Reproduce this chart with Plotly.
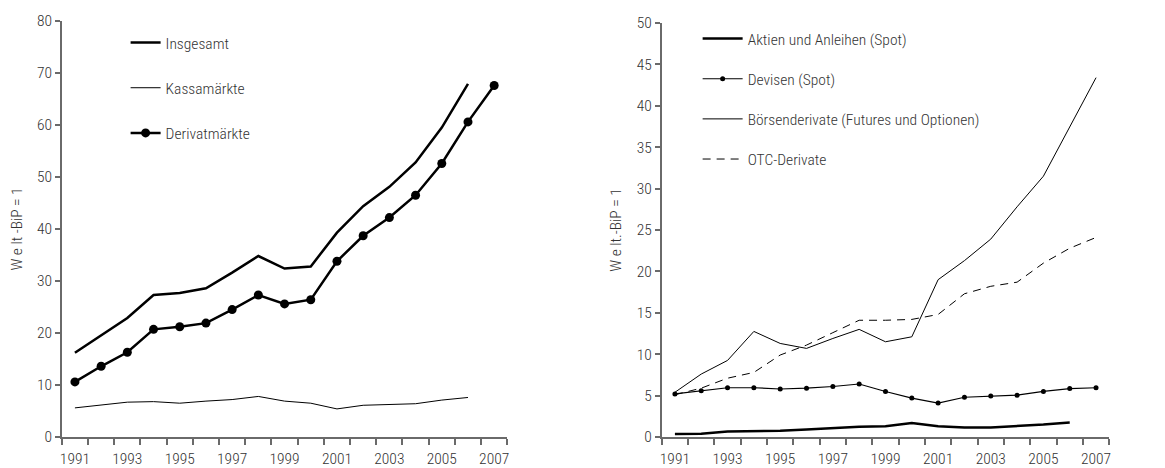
import plotly.graph_objects as go

years = list(range(1991, 2008))
years_to_2006 = list(range(1991, 2007))
tick_years = list(range(1991, 2008, 2))

# Left chart (Welt-BIP = 1)
insgesamt = [16.2, 19.6, 22.9, 27.3, 27.7, 28.6, 31.6, 34.8, 32.4, 32.8, 39.3, 44.4, 48.1, 52.8, 59.5, 67.9]
kassamaerkte = [5.6, 6.1, 6.7, 6.8, 6.5, 6.9, 7.2, 7.8, 6.9, 6.5, 5.4, 6.1, 6.3, 6.4, 7.1, 7.6]
derivatmaerkte = [10.6, 13.6, 16.3, 20.7, 21.2, 21.9, 24.5, 27.3, 25.6, 26.4, 33.8, 38.7, 42.2, 46.5, 52.6, 60.6, 67.6]

# Right chart
aktien_anleihen = [0.35, 0.4, 0.65, 0.7, 0.75, 0.9, 1.1, 1.25, 1.3, 1.7, 1.3, 1.15, 1.15, 1.3, 1.5, 1.75]
devisen = [5.2, 5.6, 5.95, 5.95, 5.8, 5.9, 6.1, 6.4, 5.5, 4.7, 4.1, 4.8, 4.95, 5.05, 5.5, 5.85, 5.95]
boersenderivate = [5.4, 7.6, 9.25, 12.75, 11.3, 10.7, 11.9, 13.0, 11.5, 12.1, 19.0, 21.3, 23.9, 27.8, 31.5, 37.5, 43.4]
otc_derivate = [5.1, 5.9, 7.1, 7.8, 9.9, 11.1, 12.6, 14.1, 14.1, 14.2, 14.8, 17.3, 18.2, 18.7, 21.0, 22.8, 24.1]

FONT = "Roboto Condensed, Arial Narrow, sans-serif"
FS = 15.5
FW = 300
TXT = "#333333"
AX = "#6a6a6a"

fig = go.Figure()

# Left traces
fig.add_trace(go.Scatter(x=years_to_2006, y=insgesamt, mode="lines", name="Insgesamt",
                         line=dict(color="black", width=2.5), xaxis="x", yaxis="y",
                         legend="legend", legendgroup="a"))
fig.add_trace(go.Scatter(x=years_to_2006, y=kassamaerkte, mode="lines", name="Kassamärkte",
                         line=dict(color="black", width=1), xaxis="x", yaxis="y",
                         legend="legend", legendgroup="b"))
fig.add_trace(go.Scatter(x=years, y=derivatmaerkte, mode="lines+markers", name="Derivatmärkte",
                         line=dict(color="black", width=2.5), marker=dict(color="black", size=9),
                         xaxis="x", yaxis="y", legend="legend", legendgroup="c"))

# Right traces
fig.add_trace(go.Scatter(x=years_to_2006, y=aktien_anleihen, mode="lines", name="Aktien und Anleihen (Spot)",
                         line=dict(color="black", width=2.5), xaxis="x2", yaxis="y2",
                         legend="legend2", legendgroup="d"))
fig.add_trace(go.Scatter(x=years, y=devisen, mode="lines+markers", name="Devisen (Spot)",
                         line=dict(color="black", width=1.2), marker=dict(color="black", size=5),
                         xaxis="x2", yaxis="y2", legend="legend2", legendgroup="e"))
fig.add_trace(go.Scatter(x=years, y=boersenderivate, mode="lines", name="Börsenderivate (Futures und Optionen)",
                         line=dict(color="black", width=1), xaxis="x2", yaxis="y2",
                         legend="legend2", legendgroup="f"))
fig.add_trace(go.Scatter(x=years, y=otc_derivate, mode="lines", name="OTC-Derivate",
                         line=dict(color="black", width=1, dash="8px,6px"), xaxis="x2", yaxis="y2",
                         legend="legend2", legendgroup="g"))

W, H = 1165, 468


def xaxis(domain):
    return dict(
        domain=domain, range=[1990.5, 2007.5], tickmode="array", tickvals=tick_years,
        ticktext=[str(y) for y in tick_years], ticks="", showline=True, linecolor=AX, linewidth=1.5,
        showgrid=False, zeroline=False, ticklabelstandoff=7,
        tickfont=dict(family=FONT, size=FS, color=TXT, weight=FW),
        minor=dict(ticks="outside", tick0=1990.5, dtick=1, ticklen=6, tickcolor=AX, tickwidth=1.5,
                   showgrid=False),
    )


def yaxis(domain, rng, dtick, title, anchor):
    return dict(
        domain=domain, range=rng, dtick=dtick, ticks="outside", ticklen=5, tickcolor=AX, tickwidth=1.5,
        showline=True, linecolor=AX, linewidth=1.5, showgrid=False, zeroline=False, anchor=anchor,
        tickfont=dict(family=FONT, size=FS, color=TXT, weight=FW),
        title=dict(text=title, font=dict(family=FONT, size=FS, color=TXT, weight=FW), standoff=11),
    )


fig.update_layout(
    width=W, height=H,
    margin=dict(l=0, r=0, t=13, b=39),
    paper_bgcolor="white", plot_bgcolor="white",
    xaxis=xaxis([52 / W, 499 / W]) | dict(anchor="y"),
    yaxis=yaxis([0, 1], [0, 80], 10, "W e lt -BiP = 1", "x"),
    xaxis2=xaxis([654 / W, 1103 / W]) | dict(anchor="y2"),
    yaxis2=yaxis([0, 414 / 416], [0, 50], 5, "W e lt.-BiP = 1", "x2"),
    legend=dict(x=116 / W, y=1 - (18 - 13) / 416, xanchor="left", yanchor="top",
                bgcolor="rgba(0,0,0,0)", tracegroupgap=22,
                font=dict(family=FONT, size=FS, color=TXT, weight=FW)),
    legend2=dict(x=690 / W, y=1 - (14 - 13) / 416, xanchor="left", yanchor="top",
                 bgcolor="rgba(0,0,0,0)", tracegroupgap=17, itemwidth=40,
                 font=dict(family=FONT, size=FS, color=TXT, weight=FW)),
    showlegend=True,
)

fig.write_html("out.html")
